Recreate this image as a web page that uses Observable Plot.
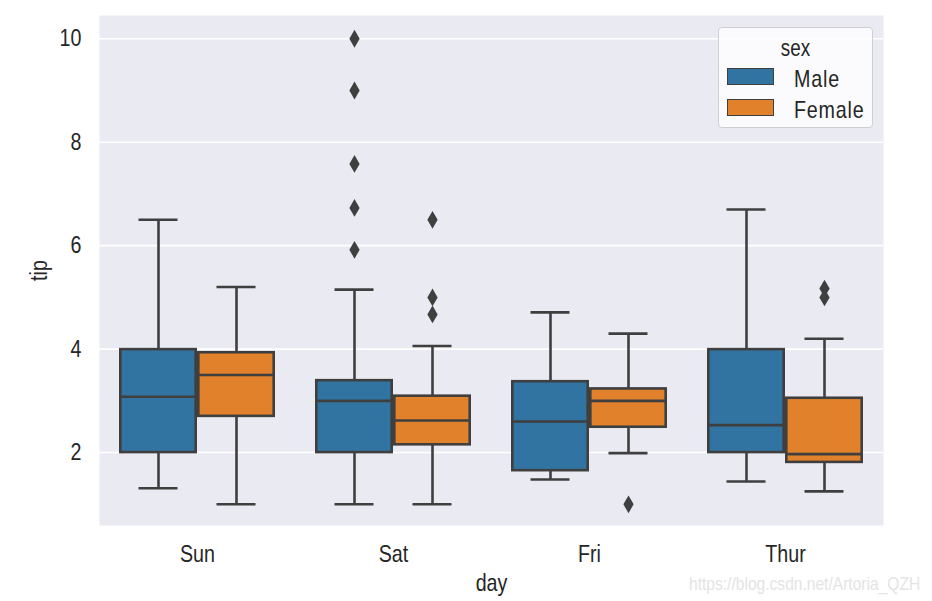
<!DOCTYPE html>
<html>
<head>
<meta charset="utf-8">
<script src="https://cdn.jsdelivr.net/npm/d3@7"></script>
<script src="https://cdn.jsdelivr.net/npm/@observablehq/plot@0.6"></script>
<style>
  html, body { margin: 0; padding: 0; background: #ffffff; }
  #wrap { position: relative; width: 932px; height: 601px; overflow: hidden;
          font-family: 'Liberation Sans', Arial, sans-serif; color: #262626; }
  #legend { position: absolute; left: 718px; top: 27px; width: 153px; height: 99px;
            background: rgba(255,255,255,0.8); border: 1.5px solid #cfcfcf; border-radius: 4px; }
  #legend .title { position: absolute; left: 0; width: 100%; top: 8px; text-align: center; font-size: 23px; line-height: 24px;
                   transform: scaleX(0.82); transform-origin: center; }
  #legend .sw { position: absolute; left: 8px; width: 45px; height: 15px; border: 1.5px solid #3f3f3f; }
  #legend .lab { position: absolute; left: 75px; font-size: 24px; line-height: 24px; white-space: nowrap;
                 transform: scaleX(0.82); transform-origin: left center; letter-spacing: 1px; }
  #wm { position: absolute; left: 689px; top: 573px; font-size: 19px; line-height: 22px; color: #e4e4e4; white-space: nowrap;
        transform: scaleX(0.82); transform-origin: left center; }
</style>
</head>
<body>
<div id="wrap">
  <div id="chart"></div>
  <div id="legend"></div>
  <div id="wm">https://blog.csdn.net/Artoria_QZH</div>
</div>
<script>
// ---- data ----
const days = ["Sun", "Sat", "Fri", "Thur"];
const sexes = ["Male", "Female"];
const sexColors = ["#3274A1", "#E1812C"];
const yTicks = [2, 4, 6, 8, 10];

const boxDay = ["Sun", "Sun", "Sat", "Sat", "Fri", "Fri", "Thur", "Thur"];
const boxSex = ["Male", "Female", "Male", "Female", "Male", "Female", "Male", "Female"];
const whiskerLow  = [1.31, 1.00, 1.00, 1.00, 1.48, 1.99, 1.44, 1.25];
const q1          = [2.00, 2.70, 2.00, 2.15, 1.65, 2.49, 2.00, 1.81];
const median      = [3.08, 3.50, 3.00, 2.62, 2.60, 3.00, 2.53, 1.97];
const q3          = [3.99, 3.93, 3.39, 3.09, 3.37, 3.23, 3.99, 3.05];
const whiskerHigh = [6.50, 5.20, 5.15, 4.06, 4.71, 4.30, 6.70, 4.20];

const outlierDay = ["Sat", "Sat", "Sat", "Sat", "Sat", "Sat", "Sat", "Sat", "Fri", "Thur", "Thur"];
const outlierSex = ["Male", "Male", "Male", "Male", "Male", "Female", "Female", "Female", "Female", "Female", "Female"];
const outlierTip = [10.0, 9.0, 7.58, 6.73, 5.92, 6.5, 5.0, 4.67, 1.0, 5.17, 5.0];

// ---- tables built from the arrays ----
const boxes = boxDay.map((d, i) => ({
  day: d, sex: boxSex[i], low: whiskerLow[i], q1: q1[i], median: median[i], q3: q3[i], high: whiskerHigh[i]
}));
const outliers = outlierDay.map((d, i) => ({ day: d, sex: outlierSex[i], tip: outlierTip[i] }));

const EDGE = "#3f3f3f";
const LW = 2.6;
const FONT = "'Liberation Sans', Arial, sans-serif";
const NARROW = 0.82;

const chart = Plot.plot({
  width: 932,
  height: 601,
  marginLeft: 98,
  marginRight: 48,
  marginTop: 15,
  marginBottom: 76,
  style: { fontFamily: FONT, fontSize: "24px", color: "#262626", background: "transparent" },
  fx: { domain: days, padding: 0, axis: null },
  x: { domain: sexes, paddingInner: 0, paddingOuter: 0.25, axis: null },
  y: { domain: [0.59, 10.45], axis: null },
  color: { domain: sexes, range: sexColors },
  marks: [
    Plot.frame({ fill: "#EAEAF2", stroke: null, facet: "super" }),
    Plot.gridY(yTicks, { stroke: "#ffffff", strokeOpacity: 1, strokeWidth: 1.6 }),
    Plot.ruleX(boxes, { fx: "day", x: "sex", y1: "low", y2: "high", stroke: EDGE, strokeWidth: LW }),
    Plot.tickY(boxes, { fx: "day", x: "sex", y: "low", stroke: EDGE, strokeWidth: LW, insetLeft: 19.5, insetRight: 19.5 }),
    Plot.tickY(boxes, { fx: "day", x: "sex", y: "high", stroke: EDGE, strokeWidth: LW, insetLeft: 19.5, insetRight: 19.5 }),
    Plot.rectY(boxes, { fx: "day", x: "sex", y1: "q1", y2: "q3", fill: "sex", stroke: EDGE, strokeWidth: LW, insetLeft: 1.3, insetRight: 1.3 }),
    Plot.tickY(boxes, { fx: "day", x: "sex", y: "median", stroke: EDGE, strokeWidth: LW, insetLeft: 1.3, insetRight: 1.3 }),
    Plot.dot(outliers, { fx: "day", x: "sex", y: "tip", symbol: "diamond", r: 5.4, fill: EDGE, stroke: null }),
    Plot.axisY(yTicks, { anchor: "left", tickSize: 0, tickPadding: 18, tickFormat: d => String(d),
                         label: "tip", labelAnchor: "center", labelArrow: false, labelOffset: 70, fontSize: 24 }),
    Plot.axisFx({ anchor: "bottom", tickSize: 0, tickPadding: 19, label: "day", labelAnchor: "center",
                  labelArrow: false, labelOffset: 65, fontSize: 24 })
  ]
});
// narrow the glyphs (the reference uses a tall, narrow face)
chart.querySelectorAll("text").forEach(t => {
  const tr = t.getAttribute("transform") || "";
  t.setAttribute("transform", (tr + " scale(" + NARROW + ",1)").trim());
});
document.getElementById("chart").appendChild(chart);

// ---- legend overlay ----
const legend = document.getElementById("legend");
const t = document.createElement("div");
t.className = "title"; t.textContent = "sex";
legend.appendChild(t);
sexes.forEach((s, i) => {
  const sw = document.createElement("div");
  sw.className = "sw";
  sw.style.top = (40 + i * 31) + "px";
  sw.style.background = sexColors[i];
  legend.appendChild(sw);
  const lab = document.createElement("div");
  lab.className = "lab";
  lab.style.top = (39 + i * 31) + "px";
  lab.textContent = s;
  legend.appendChild(lab);
});
</script>
</body>
</html>
